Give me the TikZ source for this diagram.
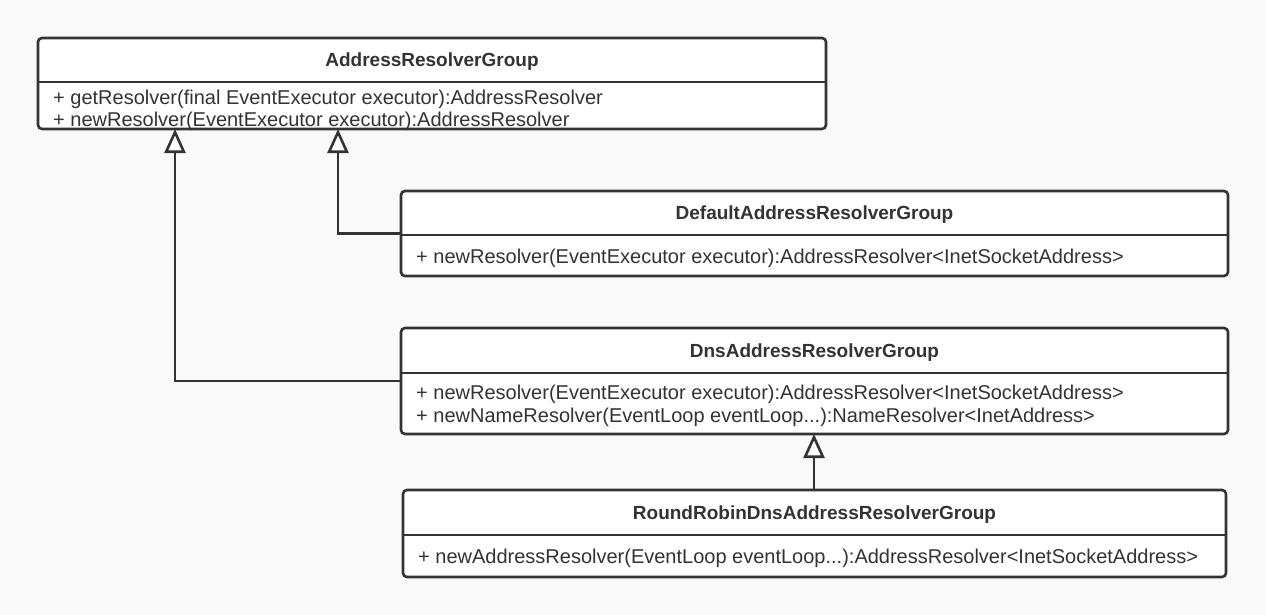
\documentclass[tikz,border=0pt]{standalone}
\usepackage{fontspec}
\setmainfont{Liberation Sans}
\usetikzlibrary{arrows.meta}
\definecolor{ink}{HTML}{333333}
\definecolor{paper}{HTML}{F9F9F9}
\tikzset{
  x=1pt, y=-1pt,
  classbox/.style={draw=ink, fill=white, line width=2.6pt, rounded corners=4pt,
    inner sep=0pt, outer sep=0pt},
  divider/.style={draw=ink, line width=2.6pt},
  title/.style={text=ink, font=\bfseries\fontsize{19}{21}\selectfont, inner sep=0pt},
  member/.style={text=ink, font=\fontsize{20}{22}\selectfont, anchor=west, inner sep=0pt},
  inherit/.style={draw=ink, line width=2.6pt,
    -{Triangle[open, length=24pt, width=21pt, fill=white]}},
}
\begin{document}
\begin{tikzpicture}
\fill[paper] (0,0) rectangle (1266,615);
\useasboundingbox (0,0) rectangle (1266,615);

% AddressResolverGroup
\node[classbox, minimum width=788pt, minimum height=91pt] (A) at (432,83.5) {};
\draw[divider] (38,82) -- (826,82);
\node[title] (At) at (432,62) {AddressResolverGroup};
\node[member] (Am1) at (53,99) {+ getResolver(final EventExecutor executor):AddressResolver};
\node[member] (Am2) at (53,121) {+ newResolver(EventExecutor executor):AddressResolver};

% DefaultAddressResolverGroup
\node[classbox, minimum width=827pt, minimum height=85pt] (B) at (814.5,233.5) {};
\draw[divider] (401,235) -- (1228,235);
\node[title] (Bt) at (814.5,215) {DefaultAddressResolverGroup};
\node[member] (Bm1) at (416,258) {+ newResolver(EventExecutor executor):AddressResolver<InetSocketAddress>};

% DnsAddressResolverGroup
\node[classbox, minimum width=827pt, minimum height=106pt] (C) at (814.5,381) {};
\draw[divider] (401,373) -- (1228,373);
\node[title] (Ct) at (814.5,353) {DnsAddressResolverGroup};
\node[member] (Cm1) at (416,394) {+ newResolver(EventExecutor executor):AddressResolver<InetSocketAddress>};
\node[member] (Cm2) at (416,417) {+ newNameResolver(EventLoop eventLoop...):NameResolver<InetAddress>};

% RoundRobinDnsAddressResolverGroup
\node[classbox, minimum width=823pt, minimum height=87pt] (D) at (814.5,533.5) {};
\draw[divider] (403,535) -- (1226,535);
\node[title] (Dt) at (814.5,515) {RoundRobinDnsAddressResolverGroup};
\node[member] (Dm1) at (418,558) {+ newAddressResolver(EventLoop eventLoop...):AddressResolver<InetSocketAddress>};

% attachment points on the base class
\coordinate (Aleft) at (175,129);
\coordinate (Aright) at (338,129);
\coordinate (Cbottom) at (814,434);

% generalisation arrows
\draw[inherit] (B.west) -| (Aright);
\draw[inherit] (C.west) -| (Aleft);
\draw[inherit] (D.north -| Cbottom) -- (Cbottom);
\end{tikzpicture}
\end{document}
